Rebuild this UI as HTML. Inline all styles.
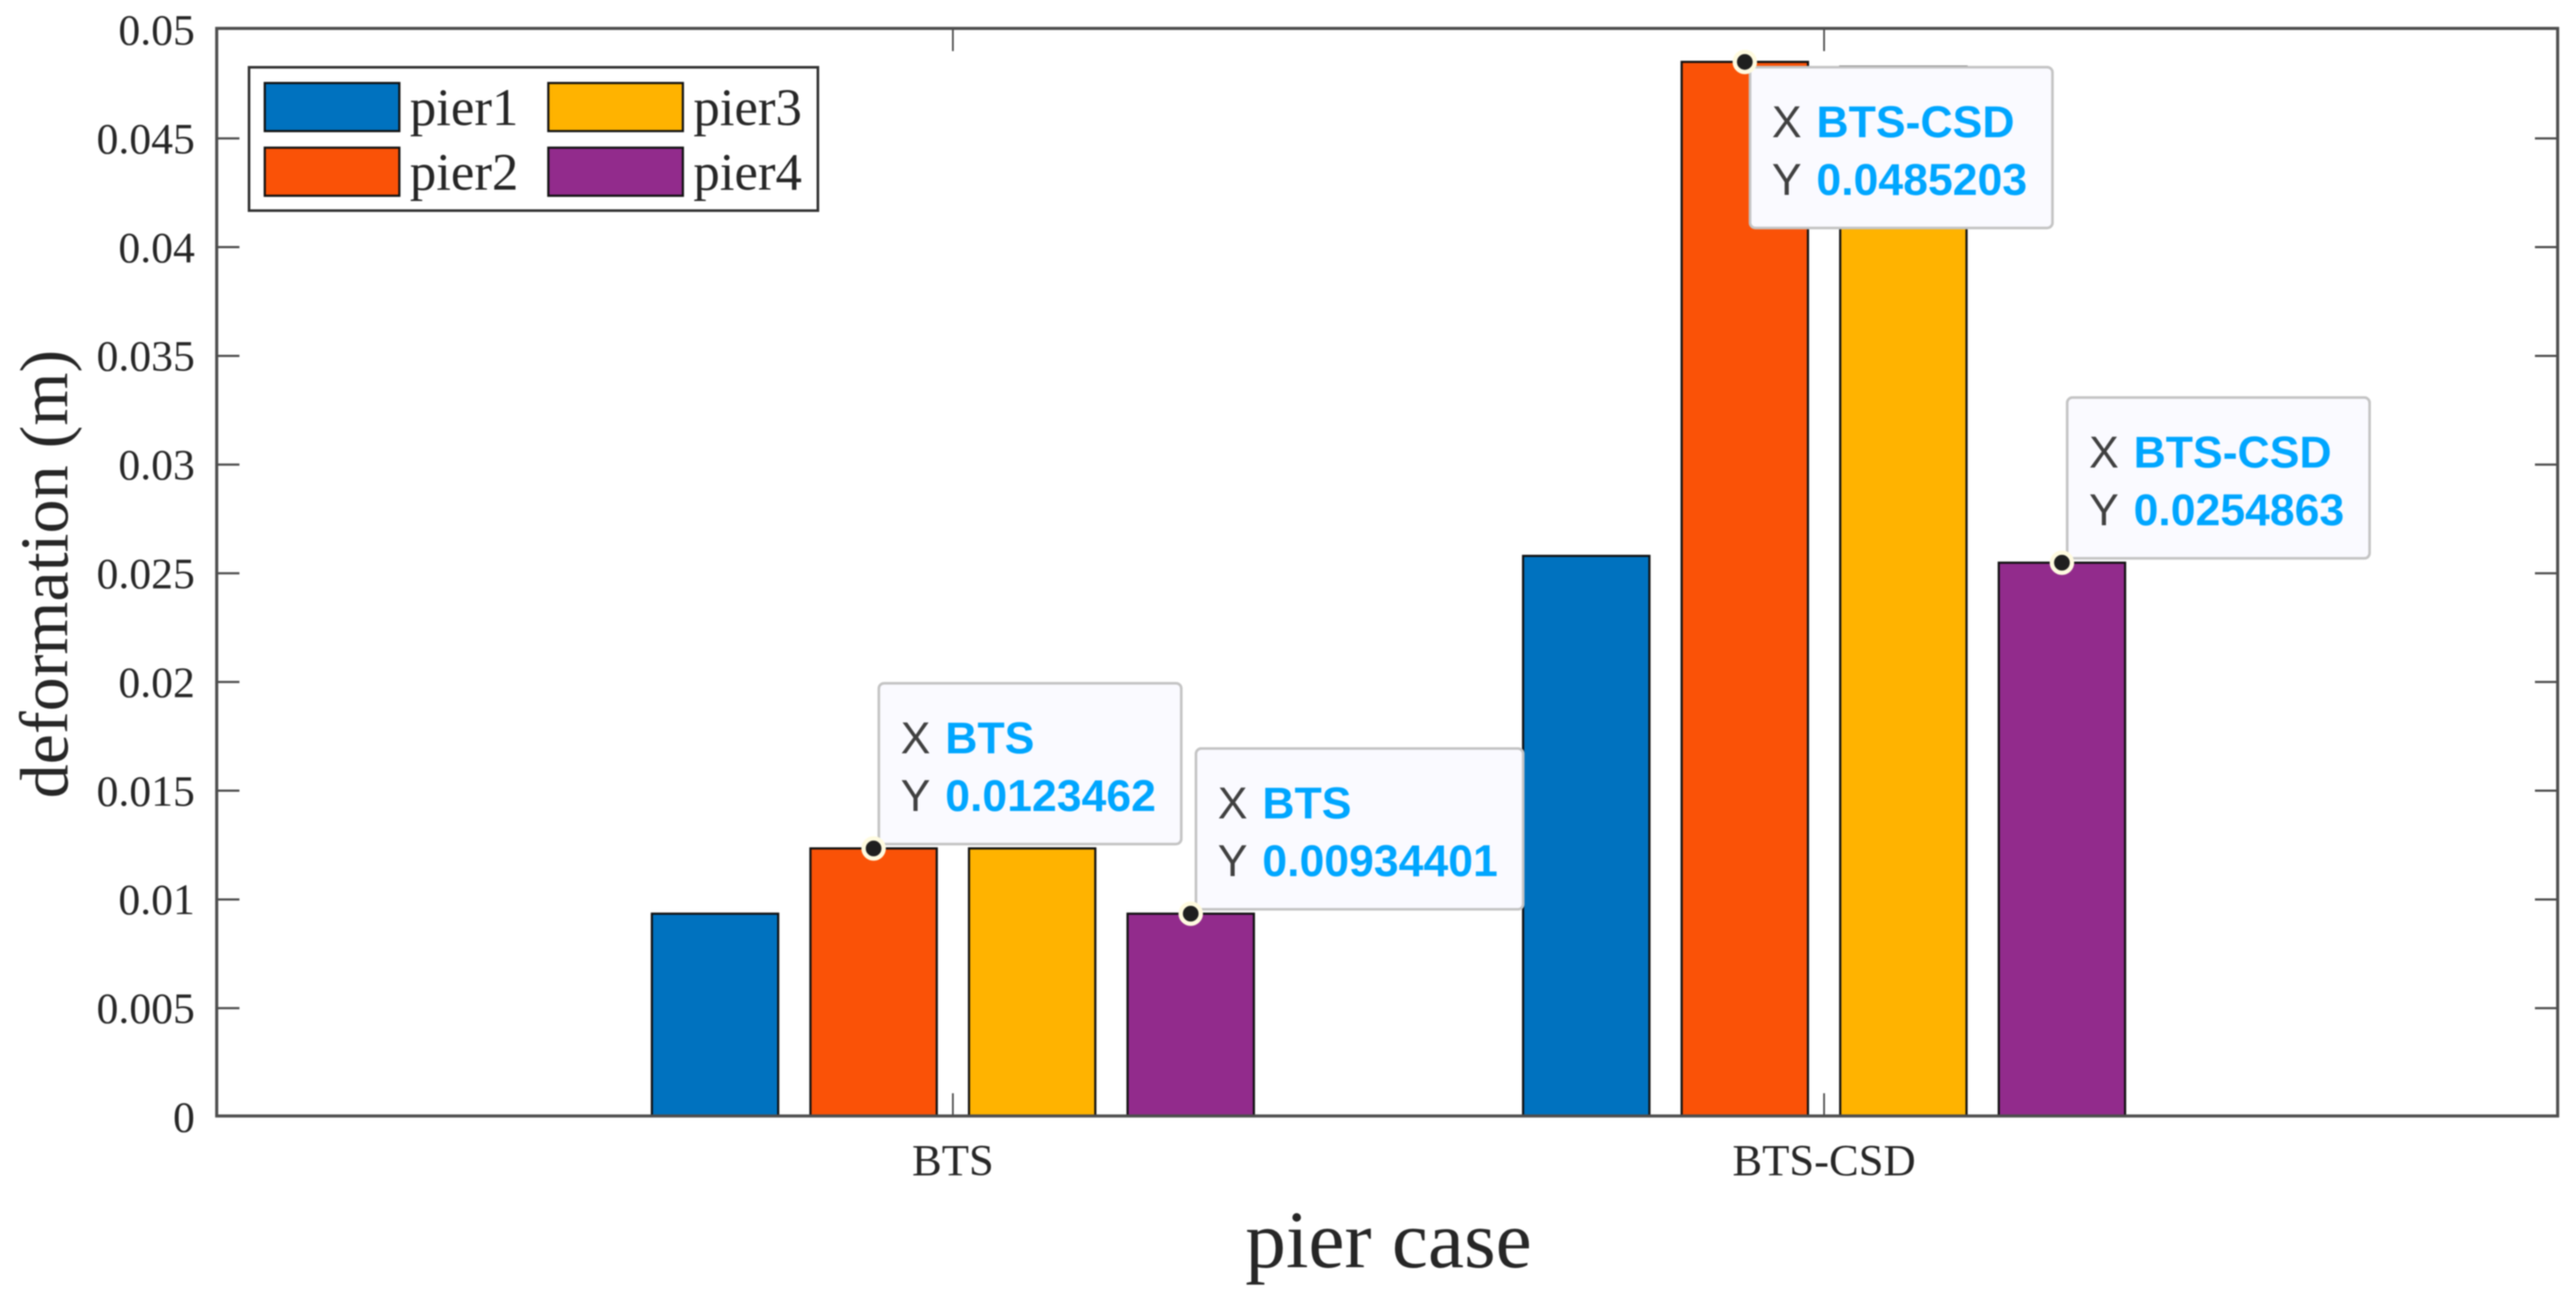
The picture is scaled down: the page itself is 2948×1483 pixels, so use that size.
<!DOCTYPE html>
<html lang="en">
<head>
<meta charset="utf-8">
<title>Pier deformation by case</title>
<style>
  html, body { margin: 0; padding: 0; background: #fff; }
  body { width: 2948px; height: 1483px; overflow: hidden; }
  svg { display: block; filter: blur(0.7px); }
  .serif { font-family: "Liberation Serif", "Times New Roman", serif; fill: #262626; }
  .sans { font-family: "Liberation Sans", Arial, sans-serif; }
</style>
</head>
<body>
<svg id="chart" xmlns="http://www.w3.org/2000/svg" width="2948" height="1483" viewBox="0 0 2948 1483"></svg>
<script>
const categories = ['BTS', 'BTS-CSD'];
const seriesNames = ['pier1', 'pier2', 'pier3', 'pier4'];
const pier1Values = [0.00934401, 0.0258];
const pier2Values = [0.0123462, 0.0485203];
const pier3Values = [0.0123462, 0.0483];
const pier4Values = [0.00934401, 0.0254863];
const seriesColors = ['#0072BF', '#FA5207', '#FFB300', '#922B8C'];
const yTickValues = [0, 0.005, 0.01, 0.015, 0.02, 0.025, 0.03, 0.035, 0.04, 0.045, 0.05];
const yTickLabels = ['0', '0.005', '0.01', '0.015', '0.02', '0.025', '0.03', '0.035', '0.04', '0.045', '0.05'];
const tipSeries = [1, 3, 1, 3];
const tipCategories = [0, 0, 1, 1];
const tipValueLabels = ['0.0123462', '0.00934401', '0.0485203', '0.0254863'];
const tipXLabels = ['BTS', 'BTS', 'BTS-CSD', 'BTS-CSD'];
const tipBelow = [false, false, true, false];

const seriesValues = [pier1Values, pier2Values, pier3Values, pier4Values];
const NS = 'http://www.w3.org/2000/svg';
const svg = document.getElementById('chart');

const plotLeft = 248, plotRight = 2927, plotTop = 34, plotBottom = 1278;
const frameTop = 32.5, frameBottom = 1277;
const xMin = 0.155, xMax = 2.842, yMin = 0, yMax = 0.05;
function xScale(v) { return plotLeft + (v - xMin) / (xMax - xMin) * (plotRight - plotLeft); }
function yScale(v) { return plotBottom - (v - yMin) / (yMax - yMin) * (plotBottom - plotTop); }

const barWidth = 0.145;
const barOffsets = [-0.273, -0.091, 0.091, 0.273];
const axisColor = '#4d4d4d';

function make(tag, attrs, parent, text) {
  const el = document.createElementNS(NS, tag);
  for (const k in attrs) el.setAttribute(k, attrs[k]);
  if (text !== undefined) el.textContent = text;
  (parent || svg).appendChild(el);
  return el;
}

// plot background
const plotBg = make('rect', { x: plotLeft, y: frameTop, width: plotRight - plotLeft, height: frameBottom - frameTop, fill: '#fff' });



// y ticks (left and right) with labels
yTickValues.forEach(function (v, i) {
  const y = yScale(v);
  if (i > 0 && i < yTickValues.length - 1) {
    const tl = make('line', { x1: plotLeft, x2: plotLeft + 26, y1: y, y2: y, stroke: axisColor, 'stroke-width': 2.5 });
    
    
    const tr = make('line', { x1: plotRight - 26, x2: plotRight, y1: y, y2: y, stroke: axisColor, 'stroke-width': 2.5 });
    
    
  }
  const lab = make('text', { x: 223, y: y + 17, 'text-anchor': 'end', 'font-size': 50, class: 'serif' }, svg, yTickLabels[i]);
  
  
});

// bars
seriesValues.forEach(function (vals, s) {
  vals.forEach(function (v, c) {
    const cx = xScale(c + 1 + barOffsets[s]);
    const half = (xScale(barWidth) - xScale(0)) / 2;
    const top = yScale(v);
    const bar = make('rect', { x: cx - half, y: top, width: half * 2, height: frameBottom - top, fill: seriesColors[s], stroke: '#111', 'stroke-width': 2.5 });
    
    
  });
});

// x ticks and labels
categories.forEach(function (cat, i) {
  const x = xScale(i + 1);
  const tb = make('line', { x1: x, x2: x, y1: frameBottom - 26, y2: frameBottom, stroke: axisColor, 'stroke-width': 2 });
  
  
  const tt = make('line', { x1: x, x2: x, y1: frameTop, y2: frameTop + 26, stroke: axisColor, 'stroke-width': 2 });
  
  
  const lab = make('text', { x: x, y: 1345, 'text-anchor': 'middle', 'font-size': 51, class: 'serif' }, svg, cat);
  
  
});

// axes box
const frame = make('rect', { x: plotLeft, y: frameTop, width: plotRight - plotLeft, height: frameBottom - frameTop, fill: 'none', stroke: axisColor, 'stroke-width': 3.5 });



// axis titles
const yTitle = make('text', { x: 77, y: 657, transform: 'rotate(-90 77 657)', 'text-anchor': 'middle', 'font-size': 78, class: 'serif' }, svg, 'deformation (m)');


const xTitle = make('text', { x: 1589, y: 1450, 'text-anchor': 'middle', 'font-size': 93, class: 'serif' }, svg, 'pier case');



// legend
const legendGroup = make('g', {});


const legendBox = make('rect', { x: 285, y: 77, width: 651, height: 164, fill: '#fff', stroke: '#333', 'stroke-width': 3 }, legendGroup);


const legendCols = [303, 627.5];
const legendRows = [95, 169];
seriesNames.forEach(function (name, i) {
  const col = Math.floor(i / 2), row = i % 2;
  const sw = make('rect', { x: legendCols[col], y: legendRows[row], width: 154, height: 55, fill: seriesColors[i], stroke: '#111', 'stroke-width': 2.5 }, legendGroup);
  
  
  const t = make('text', { x: legendCols[col] + 166, y: legendRows[row] + 48, 'font-size': 60.5, class: 'serif' }, legendGroup, name);
  
  
});

// data tips
const tipH = 184;
tipSeries.forEach(function (s, i) {
  const c = tipCategories[i];
  const mx = xScale(c + 1 + barOffsets[s]);
  const my = yScale(seriesValues[s][c]);
  const bx = mx + 6;
  const by = tipBelow[i] ? my + 6 : my - 5 - tipH;
  const g = make('g', {});
  
  
  const box = make('rect', { x: bx, y: by, width: 346, height: tipH, rx: 6, ry: 6, fill: '#FAFAFF', stroke: '#c4c4c4', 'stroke-width': 3 }, g);
  
  
  const keyX = make('text', { x: bx + 25, y: by + 80, 'font-size': 51, fill: '#404040', class: 'sans' }, g, 'X');
  
  
  const valX = make('text', { x: bx + 76, y: by + 80, 'font-size': 51, 'font-weight': 'bold', fill: '#00A6FF', class: 'sans' }, g, tipXLabels[i]);
  
  
  const keyY = make('text', { x: bx + 25, y: by + 146, 'font-size': 51, fill: '#404040', class: 'sans' }, g, 'Y');
  
  
  const valY = make('text', { x: bx + 76, y: by + 146, 'font-size': 51, 'font-weight': 'bold', fill: '#00A6FF', class: 'sans' }, g, tipValueLabels[i]);
  
  
  const textWidth = Math.max(valX.getComputedTextLength(), valY.getComputedTextLength());
  box.setAttribute('width', 76 + textWidth + 29);
  const dot = make('circle', { cx: mx, cy: my, r: 11.5, fill: '#1f1f1f', stroke: '#FFFBE0', 'stroke-width': 5 }, g);
  
  
});
</script>
</body>
</html>
